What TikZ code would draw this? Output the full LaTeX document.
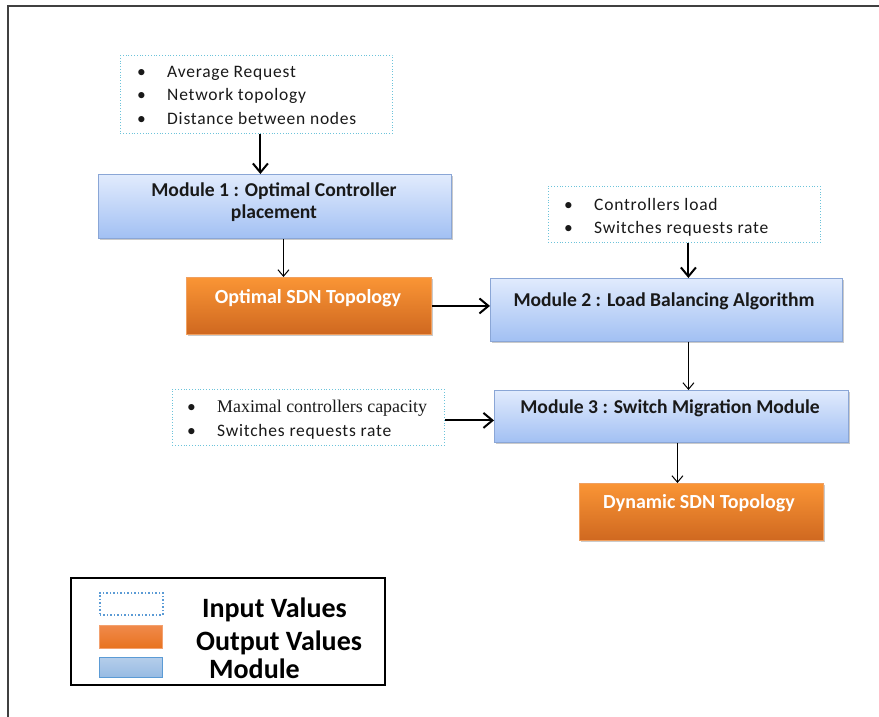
\documentclass[tikz,border=0pt]{standalone}
\usepackage{fontspec}
\setmainfont{Carlito}
\newfontfamily\tms{Liberation Serif}
\newfontfamily\inputfont[LetterSpace=4.4]{Carlito}
\usetikzlibrary{arrows.meta,shadows,calc}
\definecolor{modtop}{HTML}{E1EBFD}
\definecolor{modbot}{HTML}{A2C0F3}
\definecolor{modedge}{HTML}{8AA6D6}
\definecolor{ortop}{HTML}{FA9535}
\definecolor{orbot}{HTML}{CF6820}
\definecolor{oredge}{HTML}{F0A060}
\definecolor{inedge}{HTML}{6CC3DA}
\definecolor{legblue}{HTML}{5B9BD5}
\definecolor{legortop}{HTML}{F08A4B}
\definecolor{legorbot}{HTML}{E8731F}
\definecolor{legbltop}{HTML}{B4CDEA}
\definecolor{legblbot}{HTML}{97BBE3}
\tikzset{
  boxshadow/.style={drop shadow={shadow xshift=1.5pt, shadow yshift=-2pt, opacity=0.35, fill=black!60}},
  modbox/.style={draw=modedge, line width=0.9pt, top color=modtop, bottom color=modbot, boxshadow, inner sep=0pt, anchor=north west},
  outbox/.style={draw=oredge, line width=0.9pt, top color=ortop, bottom color=orbot, boxshadow, inner sep=0pt, anchor=north west},
  inbox/.style={draw=inedge, dotted, line width=0.8pt, inner sep=0pt, anchor=north west},
  modtext/.style={font=\fontsize{19.6}{22}\selectfont\bfseries, align=center, inner sep=0pt, text=black!90},
  outtext/.style={font=\fontsize{20}{22}\selectfont\bfseries, inner sep=0pt, text=white},
  intext/.style={font=\inputfont\fontsize{17.5}{23.5}\selectfont, align=left, inner sep=0pt, anchor=north west, text=black!90},
  thickarrow/.style={-{Straight Barb[length=9pt,width=15pt,line width=2pt]}, line width=2pt},
  thinarrow/.style={-{Straight Barb[length=6.5pt,width=11pt,line width=1pt]}, line width=1pt},
  legtext/.style={font=\fontsize{28}{28}\selectfont\bfseries, inner sep=0pt, anchor=base west},
  frameline/.style={draw=black!75, line width=1.6pt}
}
\newcommand{\bul}{\makebox[30pt][l]{\textbullet}}
\begin{document}
\begin{tikzpicture}[x=1pt,y=-1pt]
\useasboundingbox (0,0) rectangle (879,717);
\coordinate (fa) at (8,717);
\coordinate (fb) at (8,6);
\coordinate (fc) at (879,6);
\draw[frameline] (fa) -- (fb) -- (fc);

% input 1
\node[inbox, minimum width=272pt, minimum height=78pt] (in1) at (120,55) {};
\node[intext] (in1t) at (137,66) {\bul Average Request\\ \bul Network topology\\ \bul Distance between nodes};

% module 1
\node[modbox, minimum width=353pt, minimum height=64pt] (m1) at (98,174) {};
\node[modtext] (m1t) at (274,202) {Module 1 : Optimal Controller\\ placement};

% output 1
\node[outbox, minimum width=245pt, minimum height=57pt] (o1) at (186,277) {};
\node[outtext] (o1t) at (308,298) {Optimal SDN Topology};

% input 2
\node[inbox, minimum width=272pt, minimum height=56pt] (in2) at (548,186) {};
\node[intext] (in2t) at (564,198) {\bul Controllers load\\ \bul Switches requests rate};

% module 2
\node[modbox, minimum width=352pt, minimum height=63pt] (m2) at (490,278) {};
\node[modtext] (m2t) at (664,301) {Module 2 : Load Balancing Algorithm};

% input 3
\node[inbox, minimum width=272pt, minimum height=56pt] (in3) at (172,389) {};
\node[intext] (in3t) at (187,400) {\bul {\tms\fontsize{17.9}{23.5}\selectfont Maximal controllers capacity}\\ \bul Switches requests rate};

% module 3
\node[modbox, minimum width=354pt, minimum height=52pt] (m3) at (494,390) {};
\node[modtext] (m3t) at (670,408) {Module 3 : Switch Migration Module};

% output 2
\node[outbox, minimum width=244pt, minimum height=57pt] (o2) at (579,483) {};
\node[outtext] (o2t) at (699,503) {Dynamic SDN Topology};

% arrows
\draw[thickarrow] ([xshift=4pt]in1.south) -- ([xshift=4pt]in1.south |- m1.north);
\draw[thinarrow] ([xshift=8.5pt]m1.south) -- ([xshift=8.5pt]m1.south |- o1.north);
\draw[thickarrow] (o1.east) -- (o1.east -| m2.west);
\draw[thickarrow] ([xshift=4pt]in2.south) -- ([xshift=4pt]in2.south |- m2.north);
\draw[thinarrow] ([xshift=22pt]m2.south) -- ([xshift=22pt]m2.south |- m3.north);
\draw[thickarrow] ([yshift=-3pt]in3.east) -- ([yshift=-3pt]in3.east -| m3.west);
\draw[thinarrow] ([xshift=6pt]m3.south) -- ([xshift=6pt]m3.south |- o2.north);

% legend
\node[draw=black, line width=2pt, minimum width=314pt, minimum height=107pt, anchor=north west, inner sep=0pt] (leg) at (70,577) {};
\node[draw=legblue, dotted, line width=1.5pt, minimum width=63pt, minimum height=22pt, anchor=north west, inner sep=0pt] (legin) at (99,592) {};
\node[draw=legortop!80, line width=0.6pt, top color=legortop, bottom color=legorbot, minimum width=63pt, minimum height=23pt, anchor=north west, inner sep=0pt] (legout) at (99,625) {};
\node[draw=legblue, line width=0.8pt, top color=legbltop, bottom color=legblbot, minimum width=63pt, minimum height=20pt, anchor=north west, inner sep=0pt] (legmod) at (99,657) {};
\node[legtext] (legint) at (202,617) {Input Values};
\node[legtext] (legoutt) at (196,650) {Output Values};
\node[legtext] (legmodt) at (209,678) {Module};
\end{tikzpicture}
\end{document}
